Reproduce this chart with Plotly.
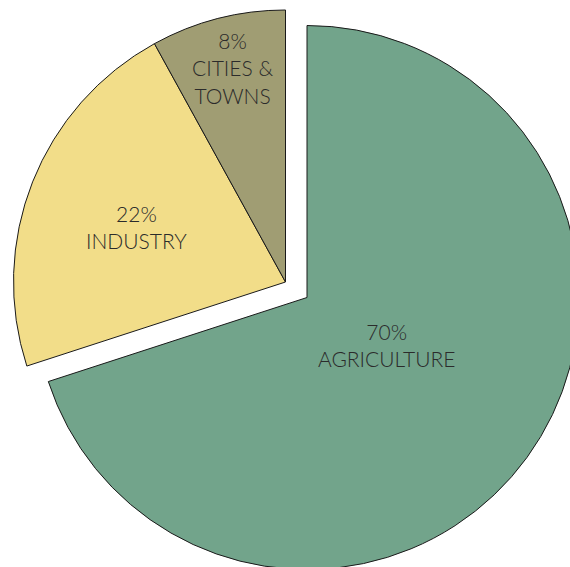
import plotly.graph_objects as go

# Data
categories = ["AGRICULTURE", "INDUSTRY", "CITIES &<br>TOWNS"]
values = [70, 22, 8]
colors = ["#72A48B", "#F2DD89", "#A09D73"]
pulled = [True, False, False]

W, H = 580, 570
R = 272
base_c = (285.5, 282.0)
pull_c = (307.0, 297.5)


def dom(c):
    cx, cy = c
    return dict(x=[(cx - R) / W, min(1, (cx + R) / W)],
                y=[max(0, 1 - (cy + R) / H), 1 - (cy - R) / H])


def trace(show_pulled, c):
    cols = []
    lw = []
    for col, p in zip(colors, pulled):
        vis = (p == show_pulled)
        cols.append(col if vis else "rgba(0,0,0,0)")
        lw.append(1 if vis else 0)
    return go.Pie(values=values, labels=categories, sort=False, direction="clockwise",
                  rotation=0, marker=dict(colors=cols, line=dict(color="#1a1a1a", width=lw)),
                  textinfo="none", hoverinfo="skip", showlegend=False, domain=dom(c))


fig = go.Figure([trace(False, base_c), trace(True, pull_c)])

label_pos = [(386, 345), (136, 227), (232, 68)]
ann = []
for cat, v, (px, py) in zip(categories, values, label_pos):
    ann.append(dict(text=f"{v}%<br>{cat}", x=px / W, y=1 - py / H, xref="paper", yref="paper",
                    showarrow=False, xanchor="center", yanchor="middle",
                    font=dict(family="Lato", size=21, color="#2b2b2b", weight=300)))

fig.update_layout(width=W, height=H, margin=dict(l=0, r=0, t=0, b=0),
                  paper_bgcolor="white", plot_bgcolor="white", annotations=ann)

fig.write_html("out.html", post_script="document.body.style.margin='0';document.body.style.overflow='hidden';document.documentElement.style.overflow='hidden';")
